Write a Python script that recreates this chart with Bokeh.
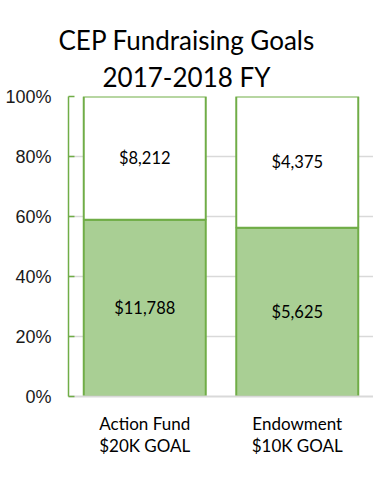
from bokeh.plotting import figure
from bokeh.models import ColumnDataSource, NumeralTickFormatter, FixedTicker, Title
from bokeh.core.properties import value
from bokeh.embed import file_html
from bokeh.resources import INLINE

# ---- data ----
categories = ["Action Fund\n$20K GOAL", "Endowment\n$10K GOAL"]
raised = [11788, 5625]
remaining = [8212, 4375]
raised_labels = ["$11,788", "$5,625"]
remaining_labels = ["$8,212", "$4,375"]
y_ticks = [0, 0.2, 0.4, 0.6, 0.8, 1.0]
title_lines = ["CEP Fundraising Goals", "2017-2018 FY"]

goal = [r + m for r, m in zip(raised, remaining)]
raised_share = [r / g for r, g in zip(raised, goal)]

src = ColumnDataSource(dict(
    cat=categories,
    raised_share=raised_share,
    one=[1.0] * len(categories),
    zero=[0.0] * len(categories),
    rl=raised_labels, ml=remaining_labels,
    rp=[s / 2 for s in raised_share],
    mp=[(s + 1) / 2 for s in raised_share],
))

GREEN = "#70ad47"
FILL = "#a9cf94"
GRID = "#d9d9d9"
FONT = "Lato"

p = figure(x_range=categories, y_range=(0, 1),
           width=373, height=463,
           frame_width=305, frame_height=300,
           min_border_left=68, min_border_right=0, min_border_top=96, min_border_bottom=10,
           output_backend="svg", toolbar_location=None, tools="")
p.title = None

t2 = Title(text=title_lines[1], align="left", text_font=FONT, text_font_size="26px",
           text_font_style="normal", text_color="#000000", offset=34, standoff=7)
t1 = Title(text=title_lines[0], align="left", text_font=FONT, text_font_size="26px",
           text_font_style="normal", text_color="#000000", offset=-10, standoff=0)
p.add_layout(t2, "above")
p.add_layout(t1, "above")

# bars
p.vbar(x="cat", bottom="zero", top="raised_share", width=0.8, source=src,
       fill_color=FILL, line_color=GREEN, line_width=2)
p.vbar(x="cat", bottom="raised_share", top="one", width=0.8, source=src,
       fill_color="white", line_color=GREEN, line_width=2)

# bar labels
p.text(x="cat", y="rp", text="rl", source=src, text_align="center", text_baseline="middle",
       text_font=value(FONT), text_font_size="16.5px", text_color="#000000")
p.text(x="cat", y="mp", text="ml", source=src, text_align="center", text_baseline="middle",
       text_font=value(FONT), text_font_size="16.5px", text_color="#000000")

# y axis
p.yaxis.ticker = FixedTicker(ticks=y_ticks)
p.yaxis.formatter = NumeralTickFormatter(format="0%")
p.yaxis.axis_line_color = GREEN
p.yaxis.axis_line_width = 1.5
p.yaxis.major_tick_line_color = GREEN
p.yaxis.major_tick_line_width = 1.5
p.yaxis.major_tick_in = 6
p.yaxis.major_tick_out = 0
p.yaxis.minor_tick_line_color = None
p.yaxis.major_label_standoff = 17
p.yaxis.major_label_text_font = "Liberation Sans"
p.yaxis.major_label_text_font_size = "18px"
p.yaxis.major_label_text_color = "#1a1a1a"

# x axis
p.xaxis.axis_line_color = GRID
p.xaxis.axis_line_width = 2
p.xaxis.major_tick_line_color = None
p.xaxis.minor_tick_line_color = None
p.xaxis.major_label_standoff = 10
p.xaxis.major_label_text_font = FONT
p.xaxis.major_label_text_font_size = "17px"
p.xaxis.major_label_text_color = "#000000"
p.xaxis.major_label_text_line_height = 1.05

p.xgrid.grid_line_color = None
p.ygrid.grid_line_color = GRID
p.ygrid.grid_line_width = 1.5
p.outline_line_color = None

open("out.html", "w").write(file_html(p, INLINE))
